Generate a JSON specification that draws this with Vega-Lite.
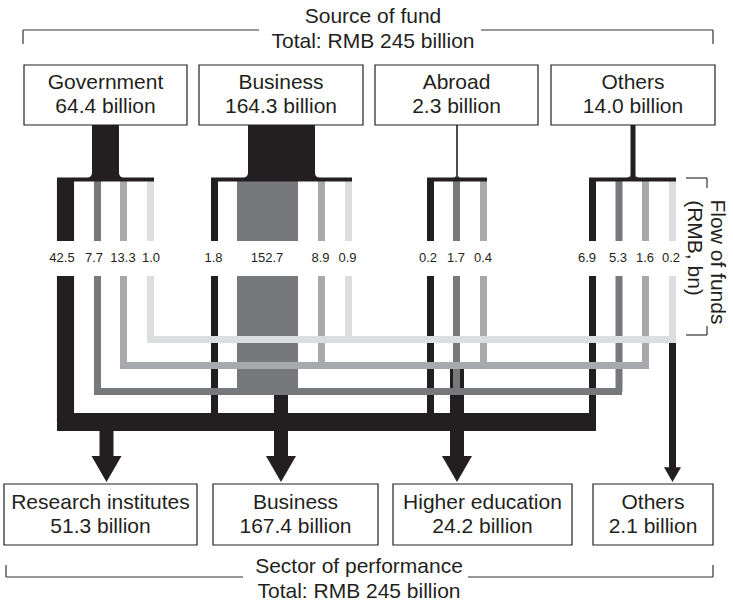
{
  "$schema": "https://vega.github.io/schema/vega-lite/v6.json",
  "width": 733,
  "height": 603,
  "padding": 0,
  "autosize": {"type": "none"},
  "background": "#ffffff",
  "config": {
    "view": {"stroke": null},
    "text": {"font": "Liberation Sans", "color": "#231f20"}
  },
  "datasets": {
    "brackets": [
      {"x": 23, "y": 44, "x2": 23, "y2": 30},
      {"x": 23, "y": 30, "x2": 259, "y2": 30},
      {"x": 481, "y": 30, "x2": 713, "y2": 30},
      {"x": 713, "y": 30, "x2": 713, "y2": 44},
      {"x": 6, "y": 565, "x2": 6, "y2": 577},
      {"x": 6, "y": 577, "x2": 243, "y2": 577},
      {"x": 468, "y": 577, "x2": 713, "y2": 577},
      {"x": 713, "y": 577, "x2": 713, "y2": 565},
      {"x": 686, "y": 178, "x2": 707, "y2": 178},
      {"x": 707, "y": 178, "x2": 707, "y2": 188},
      {"x": 686, "y": 335, "x2": 707, "y2": 335},
      {"x": 707, "y": 326, "x2": 707, "y2": 335}
    ],
    "boxes": [
      {"label": "Government\n64.4 billion", "x": 24, "x2": 187, "y": 65, "y2": 125, "xc": 105.5, "yc": 83},
      {"label": "Business\n164.3 billion", "x": 199, "x2": 363, "y": 65, "y2": 125, "xc": 281, "yc": 83},
      {"label": "Abroad\n2.3 billion", "x": 375, "x2": 538, "y": 65, "y2": 125, "xc": 456.5, "yc": 83},
      {"label": "Others\n14.0 billion", "x": 551, "x2": 715, "y": 65, "y2": 125, "xc": 633, "yc": 83},
      {"label": "Research institutes\n51.3 billion", "x": 4, "x2": 197, "y": 484, "y2": 545, "xc": 100.5, "yc": 503},
      {"label": "Business\n167.4 billion", "x": 213, "x2": 378, "y": 484, "y2": 545, "xc": 295.5, "yc": 503},
      {"label": "Higher education\n24.2 billion", "x": 393, "x2": 572, "y": 484, "y2": 545, "xc": 482.5, "yc": 503},
      {"label": "Others\n2.1 billion", "x": 593, "x2": 713, "y": 484, "y2": 545, "xc": 653, "yc": 503}
    ],
    "titles": [
      {"text": "Source of fund", "x": 373, "y": 17},
      {"text": "Total: RMB 245 billion", "x": 373, "y": 42},
      {"text": "Sector of performance", "x": 359, "y": 567},
      {"text": "Total: RMB 245 billion", "x": 359, "y": 592}
    ],
    "side": [
      {"text": "Flow of funds", "x": 717, "y": 262},
      {"text": "(RMB, bn)", "x": 694, "y": 248}
    ],
    "stems": [
      {"src": "Government", "total": 64.4, "x": 92, "x2": 119, "y": 125, "y2": 178},
      {"src": "Business", "total": 164.3, "x": 248, "x2": 315, "y": 125, "y2": 178},
      {"src": "Abroad", "total": 2.3, "x": 456.2, "x2": 457.8, "y": 125, "y2": 178},
      {"src": "Others", "total": 14.0, "x": 630.5, "x2": 635.5, "y": 125, "y2": 178}
    ],
    "bars": [
      {"src": "Government", "x": 57, "x2": 154, "y": 179.5},
      {"src": "Business", "x": 211, "x2": 352, "y": 179.5},
      {"src": "Abroad", "x": 427, "x2": 487, "y": 179.5},
      {"src": "Others", "x": 589, "x2": 676, "y": 179.5}
    ],
    "flows": [
      {"src": "Government", "dest": "Research institutes", "value": 42.5, "x": 65.5, "xLabel": 62, "yTop": 180, "yMid": 241, "yLabel": 258, "yLow": 276, "yEnd": 422},
      {"src": "Government", "dest": "Business", "value": 7.7, "x": 97.5, "xLabel": 94, "yTop": 180, "yMid": 241, "yLabel": 258, "yLow": 276, "yEnd": 391.5},
      {"src": "Government", "dest": "Higher education", "value": 13.3, "x": 123.5, "xLabel": 123, "yTop": 180, "yMid": 241, "yLabel": 258, "yLow": 276, "yEnd": 365.5},
      {"src": "Government", "dest": "Others", "value": 1.0, "x": 150.5, "xLabel": 151, "yTop": 180, "yMid": 241, "yLabel": 258, "yLow": 276, "yEnd": 339.5},
      {"src": "Business", "dest": "Research institutes", "value": 1.8, "x": 214.5, "xLabel": 213.5, "yTop": 180, "yMid": 241, "yLabel": 258, "yLow": 276, "yEnd": 422},
      {"src": "Business", "dest": "Business", "value": 152.7, "x": 267.5, "xLabel": 267, "yTop": 180, "yMid": 241, "yLabel": 258, "yLow": 276, "yEnd": 391.5},
      {"src": "Business", "dest": "Higher education", "value": 8.9, "x": 321.5, "xLabel": 320.5, "yTop": 180, "yMid": 241, "yLabel": 258, "yLow": 276, "yEnd": 365.5},
      {"src": "Business", "dest": "Others", "value": 0.9, "x": 348.5, "xLabel": 347.5, "yTop": 180, "yMid": 241, "yLabel": 258, "yLow": 276, "yEnd": 339.5},
      {"src": "Abroad", "dest": "Research institutes", "value": 0.2, "x": 430.5, "xLabel": 428, "yTop": 180, "yMid": 241, "yLabel": 258, "yLow": 276, "yEnd": 422},
      {"src": "Abroad", "dest": "Business", "value": 1.7, "x": 456.5, "xLabel": 456, "yTop": 180, "yMid": 241, "yLabel": 258, "yLow": 276, "yEnd": 391.5},
      {"src": "Abroad", "dest": "Higher education", "value": 0.4, "x": 483.5, "xLabel": 483, "yTop": 180, "yMid": 241, "yLabel": 258, "yLow": 276, "yEnd": 365.5},
      {"src": "Others", "dest": "Research institutes", "value": 6.9, "x": 592.5, "xLabel": 587, "yTop": 180, "yMid": 241, "yLabel": 258, "yLow": 276, "yEnd": 422},
      {"src": "Others", "dest": "Business", "value": 5.3, "x": 619, "xLabel": 618, "yTop": 180, "yMid": 241, "yLabel": 258, "yLow": 276, "yEnd": 391.5},
      {"src": "Others", "dest": "Higher education", "value": 1.6, "x": 645.5, "xLabel": 645, "yTop": 180, "yMid": 241, "yLabel": 258, "yLow": 276, "yEnd": 365.5},
      {"src": "Others", "dest": "Others", "value": 0.2, "x": 672.5, "xLabel": 671, "yTop": 180, "yMid": 241, "yLabel": 258, "yLow": 276, "yEnd": 339.5}
    ],
    "collectors": [
      {"dest": "Others", "x": 147, "x2": 676, "y": 339.5},
      {"dest": "Higher education", "x": 120, "x2": 649, "y": 365.5},
      {"dest": "Business", "x": 94, "x2": 622, "y": 391.5},
      {"dest": "Research institutes", "x": 57, "x2": 596, "y": 422}
    ],
    "arrows": [
      {"dest": "Research institutes", "total": 51.3, "x": 106.5, "y": 422, "yEnd": 457, "yHead": 469},
      {"dest": "Business", "total": 167.4, "x": 281, "y": 391.5, "yEnd": 457, "yHead": 469},
      {"dest": "Higher education", "total": 24.2, "x": 457, "y": 365.5, "yEnd": 457, "yHead": 469},
      {"dest": "Others", "total": 2.1, "x": 672.5, "y": 339.5, "yEnd": 468, "yHead": 474.6}
    ]
  },
  "layer": [
    {
      "data": {"name": "brackets"},
      "mark": {"type": "rule", "color": "#333333", "strokeWidth": 1.2},
      "encoding": {
        "x": {"field": "x", "type": "quantitative", "scale": {"domain": [0, 733], "nice": false, "zero": false}, "axis": null},
        "x2": {"field": "x2"},
        "y": {"field": "y", "type": "quantitative", "scale": {"domain": [0, 603], "nice": false, "zero": false, "reverse": true}, "axis": null},
        "y2": {"field": "y2"}
      }
    },
    {
      "data": {"name": "boxes"},
      "mark": {"type": "rect", "fill": "#ffffff", "stroke": "#231f20", "strokeWidth": 1.2},
      "encoding": {
        "x": {"field": "x", "type": "quantitative", "axis": null},
        "x2": {"field": "x2"},
        "y": {"field": "y", "type": "quantitative", "axis": null},
        "y2": {"field": "y2"}
      }
    },
    {
      "data": {"name": "boxes"},
      "mark": {"type": "text", "fontSize": 21, "lineBreak": "\n", "lineHeight": 24, "align": "center", "baseline": "middle"},
      "encoding": {
        "x": {"field": "xc", "type": "quantitative", "axis": null},
        "y": {"field": "yc", "type": "quantitative", "axis": null},
        "text": {"field": "label", "type": "nominal"}
      }
    },
    {
      "data": {"name": "titles"},
      "mark": {"type": "text", "fontSize": 21, "align": "center", "baseline": "middle"},
      "encoding": {
        "x": {"field": "x", "type": "quantitative", "axis": null},
        "y": {"field": "y", "type": "quantitative", "axis": null},
        "text": {"field": "text", "type": "nominal"}
      }
    },
    {
      "data": {"name": "side"},
      "mark": {"type": "text", "fontSize": 21, "align": "center", "baseline": "middle", "angle": 90},
      "encoding": {
        "x": {"field": "x", "type": "quantitative", "axis": null},
        "y": {"field": "y", "type": "quantitative", "axis": null},
        "text": {"field": "text", "type": "nominal"}
      }
    },
    {
      "data": {"name": "stems"},
      "mark": {"type": "rect", "color": "#231f20"},
      "encoding": {
        "x": {"field": "x", "type": "quantitative", "axis": null},
        "x2": {"field": "x2"},
        "y": {"field": "y", "type": "quantitative", "axis": null},
        "y2": {"field": "y2"}
      }
    },
    {
      "data": {"name": "stems"},
      "mark": {"type": "point", "shape": "M0,-1L0,0.3L-1,0.3L-1,0A1,1,0,0,0,0,-1Z", "filled": true, "color": "#231f20", "opacity": 1, "strokeWidth": 0},
      "encoding": {
        "x": {"field": "x", "type": "quantitative", "axis": null},
        "y": {"field": "y2", "type": "quantitative", "axis": null},
        "size": {"field": "total", "type": "quantitative", "scale": {"domain": [2.3, 64.4], "range": [40, 110], "clamp": true}, "legend": null}
      }
    },
    {
      "data": {"name": "stems"},
      "mark": {"type": "point", "shape": "M0,-1L0,0.3L1,0.3L1,0A1,1,0,0,1,0,-1Z", "filled": true, "color": "#231f20", "opacity": 1, "strokeWidth": 0},
      "encoding": {
        "x": {"field": "x2", "type": "quantitative", "axis": null},
        "y": {"field": "y2", "type": "quantitative", "axis": null},
        "size": {"field": "total", "type": "quantitative", "legend": null}
      }
    },
    {
      "data": {"name": "arrows"},
      "transform": [{"filter": "datum.dest !== 'Others'"}],
      "mark": {"type": "rule", "color": "#231f20", "strokeWidth": 14},
      "encoding": {
        "x": {"field": "x", "type": "quantitative", "axis": null},
        "y": {"field": "y", "type": "quantitative", "axis": null},
        "y2": {"field": "yEnd"}
      }
    },
    {
      "data": {"name": "arrows"},
      "transform": [{"filter": "datum.dest === 'Others'"}],
      "mark": {"type": "rule", "color": "#231f20", "strokeWidth": 7},
      "encoding": {
        "x": {"field": "x", "type": "quantitative", "axis": null},
        "y": {"field": "y", "type": "quantitative", "axis": null},
        "y2": {"field": "yEnd"}
      }
    },
    {
      "data": {"name": "arrows"},
      "transform": [{"filter": "datum.dest !== 'Others'"}],
      "mark": {"type": "point", "shape": "triangle-down", "filled": true, "color": "#231f20", "opacity": 1, "strokeWidth": 0, "size": 900},
      "encoding": {
        "x": {"field": "x", "type": "quantitative", "axis": null},
        "y": {"field": "yHead", "type": "quantitative", "axis": null}
      }
    },
    {
      "data": {"name": "arrows"},
      "transform": [{"filter": "datum.dest === 'Others'"}],
      "mark": {"type": "point", "shape": "triangle-down", "filled": true, "color": "#231f20", "opacity": 1, "strokeWidth": 0, "size": 289},
      "encoding": {
        "x": {"field": "x", "type": "quantitative", "axis": null},
        "y": {"field": "yHead", "type": "quantitative", "axis": null}
      }
    },
    {
      "data": {"name": "flows"},
      "mark": {"type": "rule"},
      "encoding": {
        "x": {"field": "x", "type": "quantitative", "axis": null},
        "y": {"field": "yTop", "type": "quantitative", "axis": null},
        "y2": {"field": "yMid"},
        "color": {"field": "dest", "type": "nominal", "scale": {"domain": ["Research institutes", "Business", "Higher education", "Others"], "range": ["#231f20", "#77787b", "#a7a9ac", "#dcddde"]}, "legend": null},
        "strokeWidth": {"field": "value", "type": "quantitative", "scale": {"domain": [0, 17, 152.7], "range": [7, 7, 61]}, "legend": null}
      }
    },
    {
      "data": {"name": "bars"},
      "mark": {"type": "rule", "color": "#231f20", "strokeWidth": 4},
      "encoding": {
        "x": {"field": "x", "type": "quantitative", "axis": null},
        "x2": {"field": "x2"},
        "y": {"field": "y", "type": "quantitative", "axis": null}
      }
    },
    {
      "data": {"name": "flows"},
      "mark": {"type": "rule"},
      "encoding": {
        "x": {"field": "x", "type": "quantitative", "axis": null},
        "y": {"field": "yLow", "type": "quantitative", "axis": null},
        "y2": {"field": "yEnd"},
        "color": {"field": "dest", "type": "nominal", "legend": null},
        "strokeWidth": {"field": "value", "type": "quantitative", "legend": null}
      }
    },
    {
      "data": {"name": "collectors"},
      "transform": [{"filter": "datum.dest !== 'Research institutes'"}],
      "mark": {"type": "rule", "strokeWidth": 7},
      "encoding": {
        "x": {"field": "x", "type": "quantitative", "axis": null},
        "x2": {"field": "x2"},
        "y": {"field": "y", "type": "quantitative", "axis": null},
        "color": {"field": "dest", "type": "nominal", "legend": null}
      }
    },
    {
      "data": {"name": "collectors"},
      "transform": [{"filter": "datum.dest === 'Research institutes'"}],
      "mark": {"type": "rule", "strokeWidth": 18},
      "encoding": {
        "x": {"field": "x", "type": "quantitative", "axis": null},
        "x2": {"field": "x2"},
        "y": {"field": "y", "type": "quantitative", "axis": null},
        "color": {"field": "dest", "type": "nominal", "legend": null}
      }
    },
    {
      "data": {"name": "flows"},
      "mark": {"type": "text", "fontSize": 13, "align": "center", "baseline": "middle"},
      "encoding": {
        "x": {"field": "xLabel", "type": "quantitative", "axis": null},
        "y": {"field": "yLabel", "type": "quantitative", "axis": null},
        "text": {"field": "value", "type": "quantitative", "format": ".1f"}
      }
    }
  ]
}
